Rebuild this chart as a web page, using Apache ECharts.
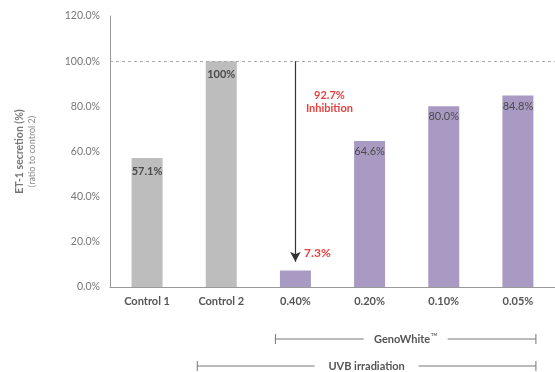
<!DOCTYPE html>
<html>
<head>
<meta charset="utf-8">
<script src="https://cdn.jsdelivr.net/npm/echarts@6/dist/echarts.min.js"></script>
<style>
  html, body { margin: 0; padding: 0; background: #fff; }
  #chart { width: 555px; height: 372px; }
</style>
</head>
<body>
<div id="chart"></div>
<script>
// ET-1 secretion relative to Control 2
const categories = ['Control 1', 'Control 2', '0.40%', '0.20%', '0.10%', '0.05%'];
const values = [57.1, 100, 7.3, 64.6, 80.0, 84.8];
const valueLabels = ['57.1%', '100%', '7.3%', '64.6%', '80.0%', '84.8%'];
const yTicks = [0, 20, 40, 60, 80, 100, 120];
const controlCount = 2;
const inhibitionText = ['92.7%', 'Inhibition'];
const groupGeno = { from: '0.40%', to: '0.05%', label: 'GenoWhite' };
const groupUvb = { from: 'Control 2', to: '0.05%', label: 'UVB irradiation' };

const FONT = 'Lato, "Noto Sans", sans-serif';
const GRAY = '#bdbdbd';
const PURPLE = '#a99ac3';
const RED = '#e8403f';

const chart = echarts.init(document.getElementById('chart'));

const barData = values.map((v, i) => {
  const isControl = i < controlCount;
  const isLow = v < 20;
  return {
    value: v,
    itemStyle: { color: isControl ? GRAY : PURPLE },
    label: isLow ? {
      show: true,
      position: 'top',
      offset: [22, -6],
      color: RED,
      fontWeight: 'bold',
      fontSize: 12,
      formatter: valueLabels[i]
    } : {
      show: true,
      position: 'insideTop',
      distance: isControl ? 8 : 5,
      color: '#4a4a4a',
      fontWeight: isControl ? 'bold' : 'normal',
      fontSize: 11,
      formatter: valueLabels[i]
    }
  };
});

chart.setOption({
  animation: false,
  textStyle: { fontFamily: FONT },
  grid: { left: 110, right: 0, top: 16, bottom: 85 },
  xAxis: {
    type: 'category',
    data: categories,
    axisLine: { lineStyle: { color: '#999', width: 1 } },
    axisTick: { show: false },
    axisLabel: { color: '#555', fontWeight: 'bold', fontSize: 11, margin: 9, fontFamily: FONT }
  },
  yAxis: {
    type: 'value',
    min: yTicks[0],
    max: yTicks[yTicks.length - 1],
    interval: yTicks[1] - yTicks[0],
    axisLine: { show: true, lineStyle: { color: '#999', width: 1 } },
    axisTick: { show: false },
    splitLine: { show: false },
    axisLabel: {
      color: '#777', fontSize: 10.5, margin: 10, fontFamily: FONT,
      formatter: v => v.toFixed(1) + '%'
    },
    name: '{a|ET-1 secretion (%)}\n{b|(ratio to control 2)}',
    nameLocation: 'middle',
    nameRotate: 90,
    nameGap: 72,
    nameTextStyle: {
      rich: {
        a: { fontSize: 10.5, fontWeight: 'bold', color: '#777', fontFamily: FONT, lineHeight: 12 },
        b: { fontSize: 9, color: '#888', fontFamily: FONT, lineHeight: 12 }
      }
    }
  },
  series: [{
    type: 'bar',
    data: barData,
    barWidth: 31,
    markLine: {
      silent: true,
      symbol: ['none', 'none'],
      data: [
        {
          yAxis: 100,
          lineStyle: { type: [3, 3], color: '#aaa', width: 1 },
          label: { show: false }
        },
        [
          { coord: ['0.40%', 100], symbol: 'none' },
          { coord: ['0.40%', 11.2], symbol: 'arrow', symbolSize: [8, 10] }
        ]
      ],
      lineStyle: { color: '#333', width: 1.2, type: 'solid' },
      label: { show: false }
    },
    markPoint: {
      silent: true,
      symbol: 'circle',
      symbolSize: 0,
      data: [{
        coord: ['0.40%', 82],
        label: {
          show: true,
          offset: [34, 0],
          color: RED,
          fontWeight: 'bold',
          fontSize: 11,
          lineHeight: 13,
          fontFamily: FONT,
          formatter: inhibitionText.join('\n')
        }
      }]
    }
  }]
});

// Group brackets under the category axis
function bracket(group, y, padLeft) {
  const xa = chart.convertToPixel({ xAxisIndex: 0 }, group.from) - padLeft;
  const xb = chart.convertToPixel({ xAxisIndex: 0 }, group.to) + 18;
  return { xa, xb, y };
}
const g = bracket(groupGeno, 339, 20);
const u = bracket(groupUvb, 366, 24);
const lineStyle = { stroke: '#777', lineWidth: 1 };
const els = [];
[[g, groupGeno.label, true], [u, groupUvb.label, false]].forEach(([b, text, tm]) => {
  const mid = (b.xa + b.xb) / 2;
  const half = tm ? 42 : 52;
  els.push(
    { type: 'line', shape: { x1: b.xa, y1: b.y, x2: mid - half, y2: b.y }, style: lineStyle },
    { type: 'line', shape: { x1: mid + half, y1: b.y, x2: b.xb, y2: b.y }, style: lineStyle },
    { type: 'line', shape: { x1: b.xa, y1: b.y - 5, x2: b.xa, y2: b.y + 5 }, style: lineStyle },
    { type: 'line', shape: { x1: b.xb, y1: b.y - 5, x2: b.xb, y2: b.y + 5 }, style: lineStyle },
    {
      type: 'text', x: mid, y: b.y,
      style: {
        text: tm ? '{m|' + text + '}{s|TM}' : text,
        fill: '#555', font: 'bold 11px ' + FONT,
        align: 'center', verticalAlign: 'middle',
        rich: tm ? {
          m: { fontSize: 11, fontWeight: 'bold', fill: '#555', fontFamily: FONT },
          s: { fontSize: 4, fontWeight: 'bold', fill: '#555', fontFamily: FONT, verticalAlign: 'top', padding: [0, 0, 9, 1] }
        } : undefined
      }
    }
  );
});
chart.setOption({ graphic: els });
</script>
</body>
</html>
